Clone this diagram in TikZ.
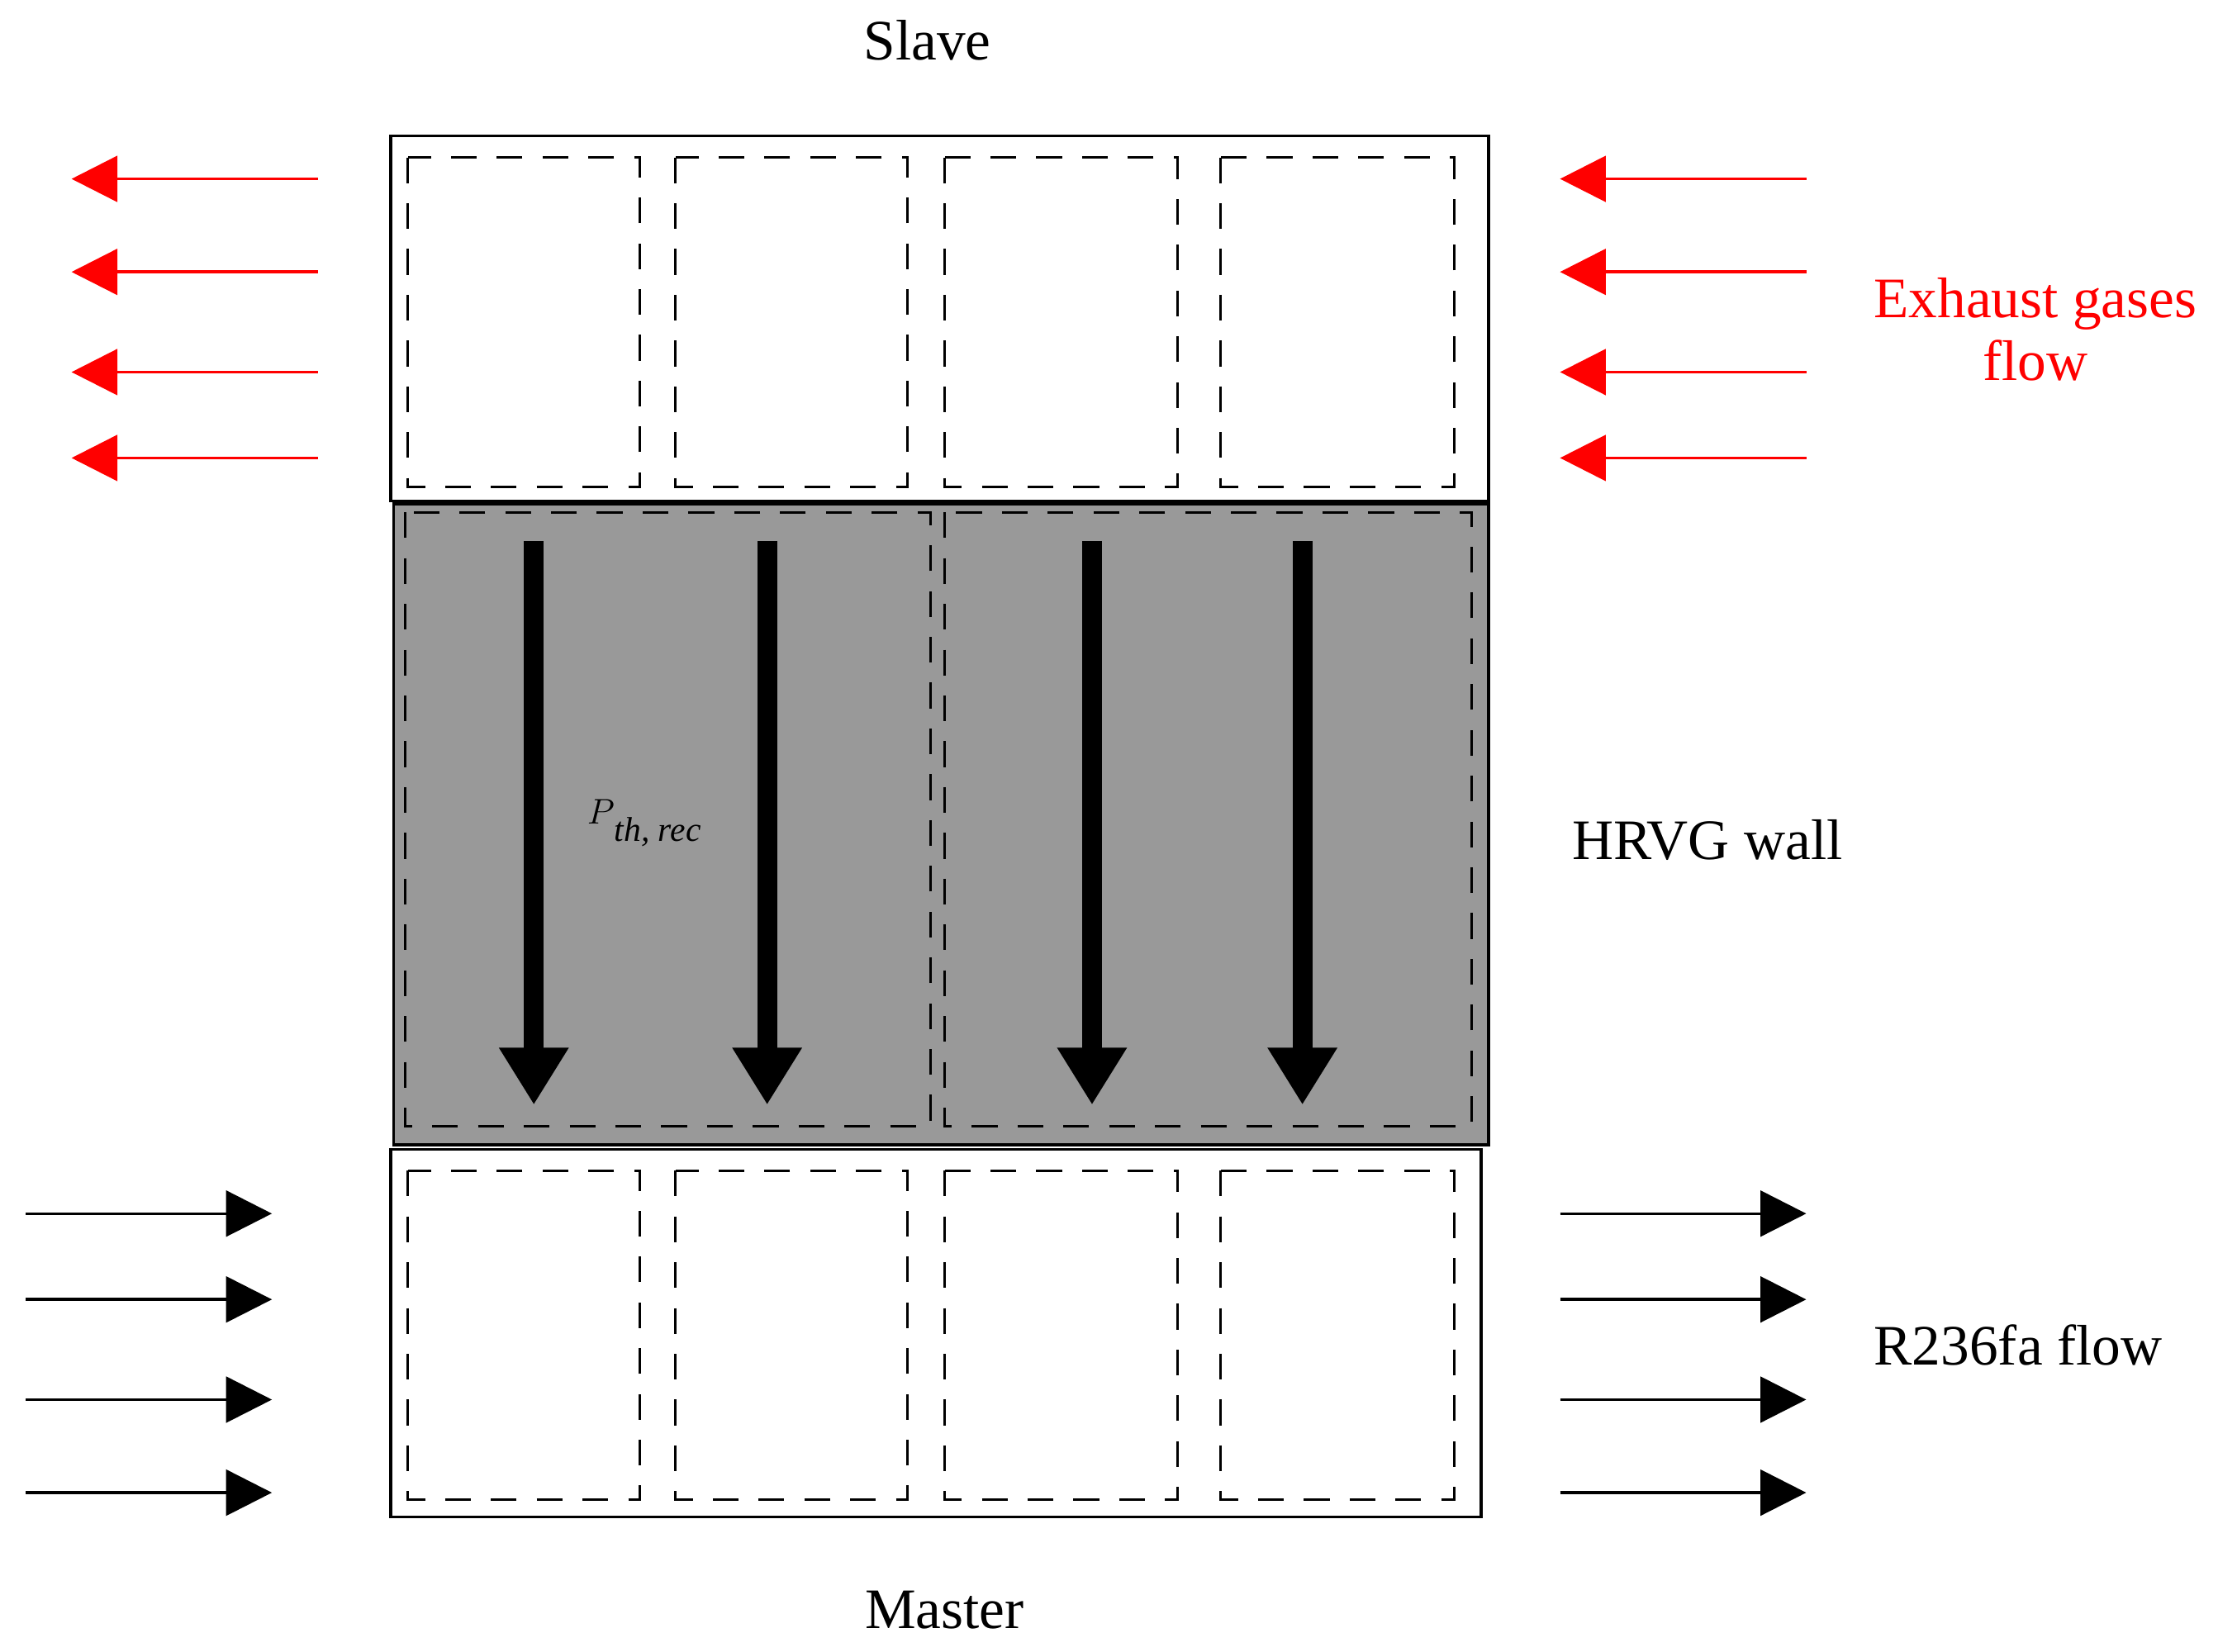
\documentclass[tikz,border=0pt]{standalone}
\usepackage{fontspec}
\setmainfont{Liberation Serif}
\usetikzlibrary{arrows.meta}
\begin{document}
\begin{tikzpicture}[x=1pt,y=-1pt,
  box/.style={draw=black,line width=2pt},
  cell/.style={draw=black,line width=1.8pt,dash pattern=on 18pt off 14pt},
  thin/.style={line width=2pt,-{Triangle[length=32pt,width=32pt]}},
  red/.style={thin,draw=red,fill=red},
  heat/.style={line width=14pt,-{Triangle[length=40pt,width=46pt]}},
  lbl/.style={font=\fontsize{40}{44}\selectfont}]
\useasboundingbox (0,0) rectangle (1563,1154);
\node[lbl] (slave) at (648,28) {Slave};
\node[lbl] (master) at (660,1125) {Master};
\node[lbl] (hrvg) at (1193,587) {HRVG wall};
\node[lbl] (r236) at (1410,940) {R236fa flow};
\node[lbl,text=red,align=center] (exh) at (1422,230) {Exhaust gases\\flow};
% boxes
\node[box,minimum width=767pt,minimum height=255pt,inner sep=0] (top) at (656.5,222.5) {};
\node[box,fill=black!40,minimum width=765pt,minimum height=448pt,inner sep=0] (mid) at (657.5,576) {};
\node[box,minimum width=762pt,minimum height=257pt,inner sep=0] (bot) at (654,931.5) {};
\foreach \a/\b in {285/447,472/634,660/823,853/1016}{
  \draw[cell] (\a,110) rectangle (\b,340);
  \draw[cell] (\a,818) rectangle (\b,1048);
}
\draw[cell] (283,358) rectangle (650,787);
\draw[cell] (660,358) rectangle (1028,787);
% heat arrows
\foreach \x/\n in {373/a,536/b,763/c,910/d}{
  \coordinate (h\n s) at (\x,378);
  \coordinate (h\n e) at (\x,772);
  \draw[heat] (h\n s) -- (h\n e);
}
\node[font=\fontsize{40}{44}\selectfont\itshape] (p) at (450,575) {$P$\raisebox{-12pt}{\fontsize{24}{26}\selectfont\itshape th, rec}};
% flows
\foreach \y/\n in {125/1,190/2,260/3,320/4}{
  \coordinate (rl\n s) at (222,\y); \coordinate (rl\n e) at (50,\y);
  \coordinate (rr\n s) at (1262,\y); \coordinate (rr\n e) at (1090,\y);
  \draw[red] (rl\n s) -- (rl\n e);
  \draw[red] (rr\n s) -- (rr\n e);
}
\foreach \y/\n in {848/1,908/2,978/3,1043/4}{
  \coordinate (bl\n s) at (18,\y); \coordinate (bl\n e) at (190,\y);
  \coordinate (br\n s) at (1090,\y); \coordinate (br\n e) at (1262,\y);
  \draw[thin,fill=black] (bl\n s) -- (bl\n e);
  \draw[thin,fill=black] (br\n s) -- (br\n e);
}
\end{tikzpicture}
\end{document}
